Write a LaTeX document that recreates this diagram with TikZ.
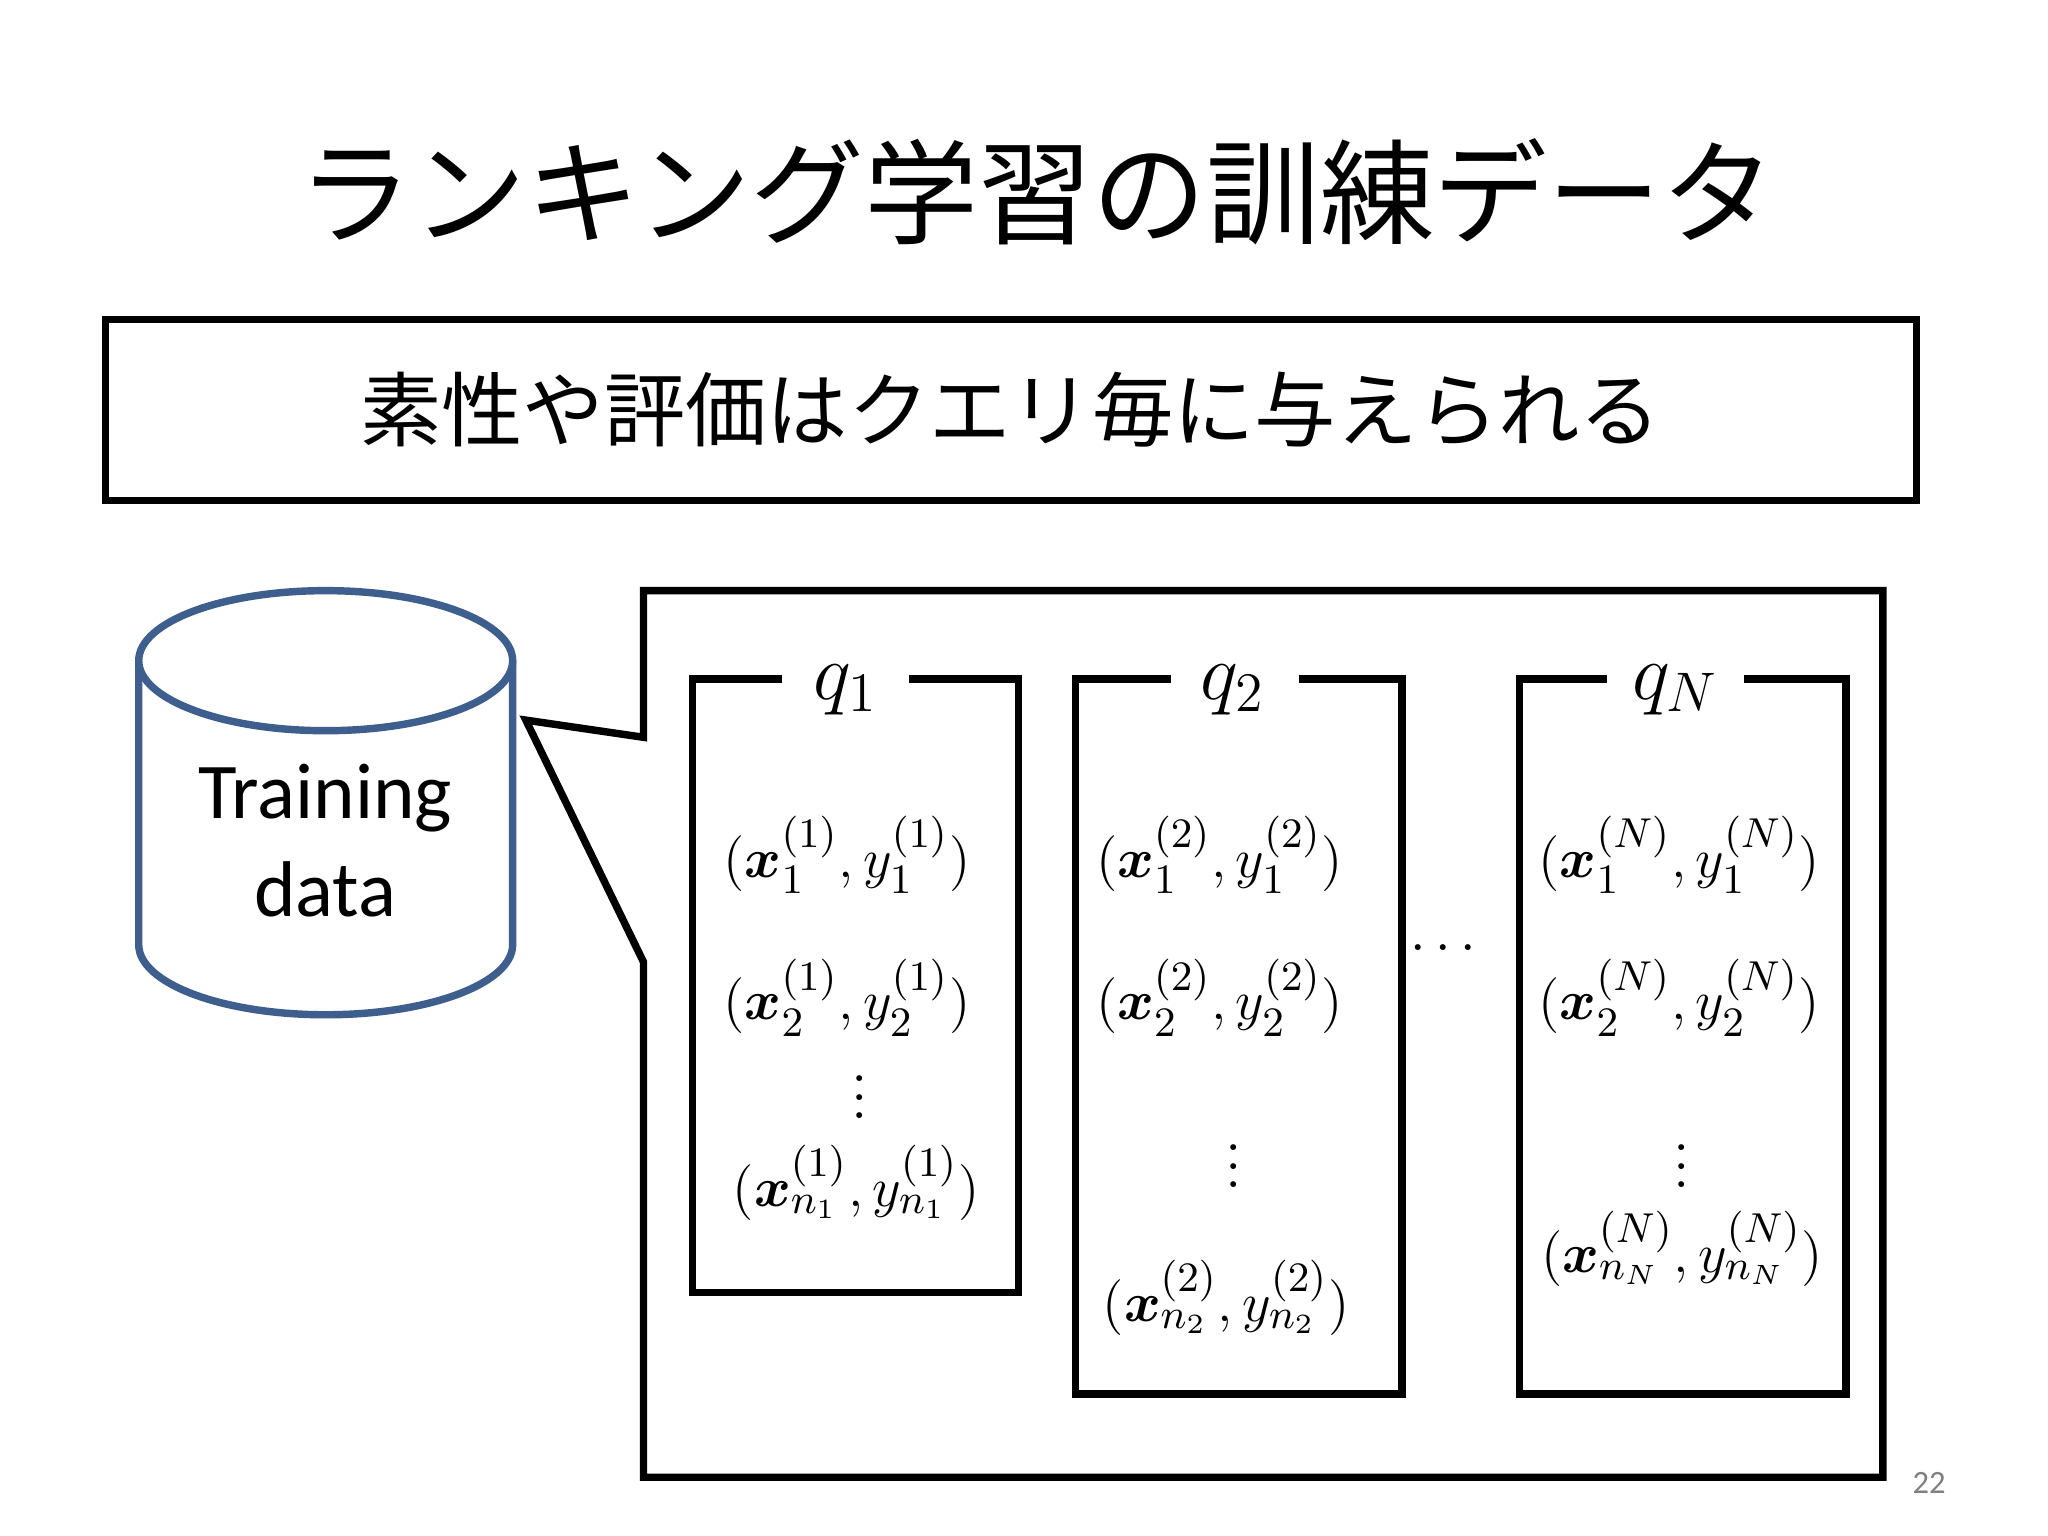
\documentclass[tikz,border=0pt]{standalone}
\usepackage{fontspec}
\usepackage{amsmath,bm}
\newfontfamily\cjk{Noto Sans CJK JP}
\newfontfamily\carlitofont{Carlito}
\usetikzlibrary{shapes.geometric}
\definecolor{cylblue}{HTML}{3E5F8E}
\tikzset{
  qbox/.style={line width=1.6pt},
  ent/.style={font=\fontsize{13}{16}\selectfont},
  ql/.style={font=\fontsize{17}{20}\selectfont, fill=white, inner sep=4pt},
}
\begin{document}
\begin{tikzpicture}[x=0.01cm,y=-0.01cm]
\useasboundingbox (0,0) rectangle (1550,1162);
\fill[white] (0,0) rectangle (1550,1162);
\node (title) at (785,145) {\cjk\fontsize{24.5}{28}\selectfont ランキング学習の訓練データ};
\node[draw, line width=1.5pt, minimum width=13.7cm, minimum height=1.37cm] (sub) at (765,310) {\cjk\fontsize{17.5}{20}\selectfont 素性や評価はクエリ毎に与えられる};
% cylinder
\draw[cylblue, line width=1.6pt, fill=white] (105,500) -- (105,715) arc[start angle=180,end angle=0,x radius=141.5,y radius=53] -- (388,500);
\draw[cylblue, line width=1.6pt, fill=white] (246.5,500) ellipse[x radius=141.5,y radius=53];
\node[font=\carlitofont\fontsize{17}{21}\selectfont, align=center] (td) at (246,636) {Training\\data};
% callout
\draw[line width=1.6pt] (487,558) -- (487,447) -- (1425,447) -- (1425,1118) -- (487,1118) -- (487,728) -- (398,545) -- cycle;
% query boxes
\draw[qbox] (592,514) -- (524,514) -- (524,978) -- (771,978) -- (771,514) -- (688,514);
\node[ql] (q1) at (640,522) {$q_1$};
\draw[qbox] (886,514) -- (814,514) -- (814,1055) -- (1061,1055) -- (1061,514) -- (983,514);
\node[ql] (q2) at (933,522) {$q_2$};
\draw[qbox] (1216,514) -- (1150,514) -- (1150,1055) -- (1397,1055) -- (1397,514) -- (1320,514);
\node[ql] (qn) at (1268,522) {$q_N$};
% entries
\node[ent] at (641,647) {$(\bm{x}_1^{(1)},y_1^{(1)})$};
\node[ent] at (641,755) {$(\bm{x}_2^{(1)},y_2^{(1)})$};
\node[ent] at (651,820) {$\vdots$};
\node[ent] at (648,895) {$(\bm{x}_{n_1}^{(1)},y_{n_1}^{(1)})$};
\node[ent] at (923,647) {$(\bm{x}_1^{(2)},y_1^{(2)})$};
\node[ent] at (923,755) {$(\bm{x}_2^{(2)},y_2^{(2)})$};
\node[ent] at (934,872) {$\vdots$};
\node[ent] at (928,982) {$(\bm{x}_{n_2}^{(2)},y_{n_2}^{(2)})$};
\node[ent] at (1096,718) {$\cdots$};
\node[ent] at (1271,647) {$(\bm{x}_1^{(N)},y_1^{(N)})$};
\node[ent] at (1271,755) {$(\bm{x}_2^{(N)},y_2^{(N)})$};
\node[ent] at (1273,872) {$\vdots$};
\node[ent] at (1273,945) {$(\bm{x}_{n_N}^{(N)},y_{n_N}^{(N)})$};
\node[font=\carlitofont\fontsize{7}{9}\selectfont, text=gray] (pg) at (1460,1122) {22};
\end{tikzpicture}
\end{document}
